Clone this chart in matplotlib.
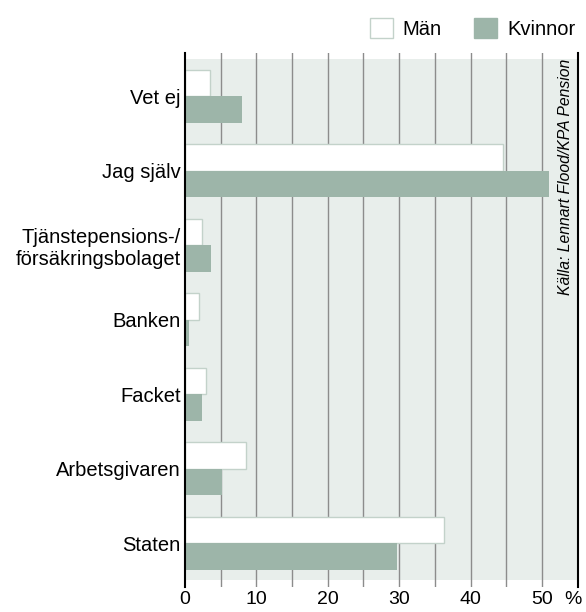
import matplotlib.pyplot as plt
import numpy as np
from matplotlib.patches import Patch

# data (percent)
categories = ["Vet ej", "Jag själv", "Tjänstepensions-/\nförsäkringsbolaget",
              "Banken", "Facket", "Arbetsgivaren", "Staten"]
man = [3.5, 44.5, 2.4, 2.0, 3.0, 8.6, 36.3]
kvinnor = [8.0, 51.0, 3.6, 0.5, 2.4, 5.2, 29.7]
xticks = [0, 10, 20, 30, 40, 50]

green = "#9db5a9"
bg = "#e8eeeb"
edge = "#c3d2ca"

plt.rcParams['font.family'] = ['Liberation Sans', 'DejaVu Sans']

fig = plt.figure(figsize=(5.86, 6.12), dpi=100)
ax = fig.add_axes([0.3157, 0.0408, 0.9858 - 0.3157, 0.9134 - 0.0408])

y = np.arange(len(categories))
h = 0.355
ax.axhspan(-0.5, len(categories) - 0.5, color=bg, zorder=0, lw=0)
for gx in range(5, 55, 5):
    ax.axvline(gx, color="#8c8c8c", lw=1, zorder=1)

ax.barh(y - h / 2, man, height=h, color="white", edgecolor=edge, lw=1, zorder=2)
ax.barh(y + h / 2, kvinnor, height=h, color=green, lw=0, zorder=2)

ax.set_xlim(0, 55)
ax.set_ylim(len(categories) - 1 + 0.59, -0.58)
ax.set_yticks(y)
ax.set_yticklabels(categories, fontsize=14.5, linespacing=1.2)
ax.set_xticks(xticks)
ax.set_xticklabels([str(t) for t in xticks], fontsize=14)
ax.tick_params(axis="y", length=0, pad=3)
ax.tick_params(axis="x", length=0, pad=3)
ax.annotate("%", xy=(54.4, 0), xycoords=("data", "axes fraction"),
            xytext=(0, -3), textcoords="offset points",
            fontsize=14, ha="center", va="top")

ax.set_facecolor("none")
for s in ["top", "bottom"]:
    ax.spines[s].set_visible(False)
ax.spines["left"].set_linewidth(1.5)
ax.spines["right"].set_linewidth(1.5)

ax.text(0.968, 0.99, "Källa: Lennart Flood/KPA Pension", transform=ax.transAxes,
        rotation=90, ha="center", va="top", fontsize=11.3, style="italic")

handles = [Patch(facecolor="white", edgecolor=edge, label="Män"),
           Patch(facecolor=green, edgecolor=green, label="Kvinnor")]
fig.legend(handles=handles, loc="upper right", bbox_to_anchor=(1.003, 0.99), ncol=2,
           frameon=False, fontsize=14.5, handlelength=1.15, handleheight=1.15,
           handletextpad=0.5, columnspacing=1.6, borderaxespad=0.2)

fig.savefig("out.png", dpi=100)
